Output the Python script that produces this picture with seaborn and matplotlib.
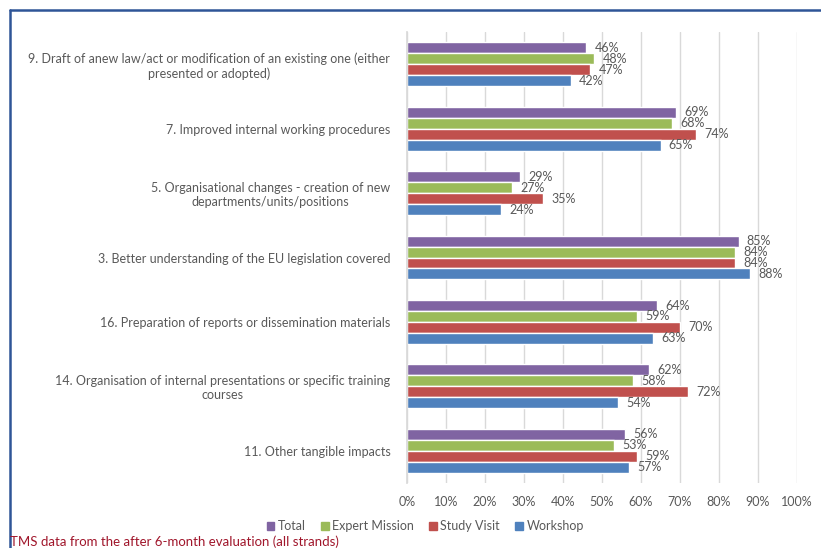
import numpy as np
import pandas as pd
import matplotlib.pyplot as plt
import seaborn as sns
from matplotlib.lines import Line2D
from matplotlib.ticker import PercentFormatter

# categories, top to bottom
categories = [
    "9. Draft of anew law/act or modification of an existing one (either\npresented or adopted)",
    "7. Improved internal working procedures",
    "5. Organisational changes - creation of new\ndepartments/units/positions",
    "3. Better understanding of the EU legislation covered",
    "16. Preparation of reports or dissemination materials",
    "14. Organisation of internal presentations or specific training\ncourses",
    "11. Other tangible impacts",
]
series = ["Total", "Expert Mission", "Study Visit", "Workshop"]
total = [46, 69, 29, 85, 64, 62, 56]
expert_mission = [48, 68, 27, 84, 59, 58, 53]
study_visit = [47, 74, 35, 84, 70, 72, 59]
workshop = [42, 65, 24, 88, 63, 54, 57]
colors = ["#8064A2", "#9BBB59", "#C0504D", "#4F81BD"]

rows = []
for name, vals in zip(series, [total, expert_mission, study_visit, workshop]):
    for cat, v in zip(categories, vals):
        rows.append({"category": cat, "series": name, "value": v})
df = pd.DataFrame(rows)

sns.set_theme(style="white")
plt.rcParams["font.family"] = ["Lato", "DejaVu Sans"]
text_gray = "#595959"

fig = plt.figure(figsize=(8.21, 5.48), dpi=100)
ax = fig.add_axes([0.4957, 0.1186, 0.4751, 0.823])

sns.barplot(data=df, y="category", x="value", hue="series",
            order=categories, hue_order=series, palette=colors,
            orient="h", width=0.68, saturation=1, ax=ax, legend=False)

for cont in ax.containers:
    ax.bar_label(cont, labels=[f"{v:.0f}%" for v in cont.datavalues],
                 padding=6, fontsize=9, color=text_gray)

ax.set_xlim(0, 100)
ax.set_ylim(len(categories) - 0.5, -0.5)
ax.set_xticks(np.arange(0, 101, 10))
ax.xaxis.set_major_formatter(PercentFormatter(decimals=0))
ax.grid(axis="x", color="#D9D9D9", linewidth=1)
ax.set_axisbelow(True)
for s in ["top", "right", "bottom"]:
    ax.spines[s].set_visible(False)
ax.spines["left"].set_color("#D9D9D9")
ax.set_xlabel("")
ax.set_ylabel("")
ax.tick_params(axis="x", length=0, labelsize=9, labelcolor=text_gray, pad=9)
ax.tick_params(axis="y", length=0, labelsize=9, labelcolor=text_gray, pad=12)
for lab in ax.get_yticklabels():
    lab.set_multialignment("center")

handles = [plt.Rectangle((0, 0), 1, 1, color=c) for c in colors]
fig.legend(handles, series, loc="center", bbox_to_anchor=(0.518, 0.04),
           ncol=4, frameon=False, fontsize=9, handlelength=0.6,
           handleheight=0.6, handletextpad=0.3, columnspacing=1.2,
           labelcolor=text_gray)

fig.text(0.012, 0.0, "TMS data from the after 6-month evaluation (all strands)",
         color="#A0162B", fontsize=9.5, ha="left", va="bottom")

# frame lines (top and left)
fig.add_artist(Line2D([0.012, 1.0], [0.982, 0.982], color="#2F5597", linewidth=1.8))
fig.add_artist(Line2D([0.012, 0.012], [0.0, 0.982], color="#2F5597", linewidth=1.8))

fig.savefig("out.png", dpi=100)
